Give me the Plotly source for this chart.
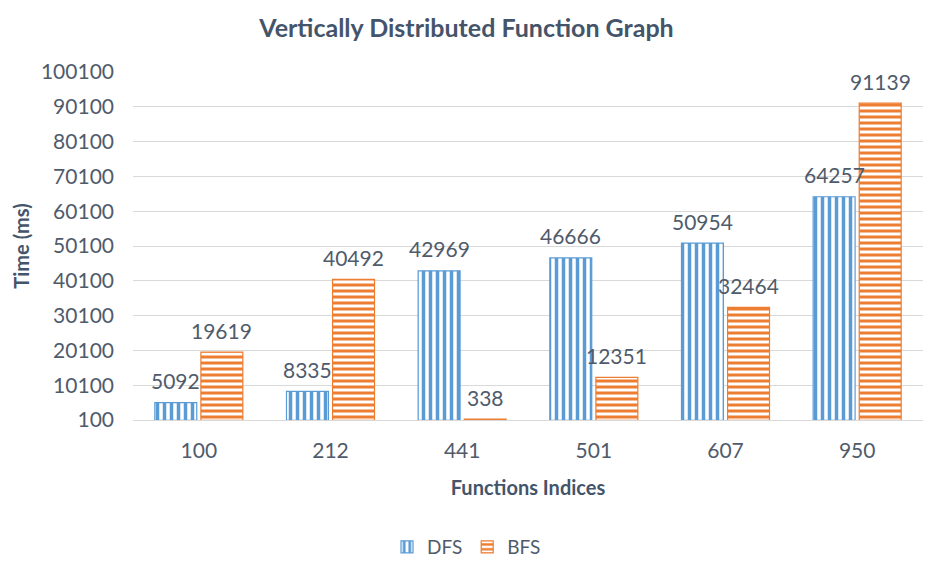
import plotly.graph_objects as go

categories = ["100", "212", "441", "501", "607", "950"]
dfs_times = [5092, 8335, 42969, 46666, 50954, 64257]
bfs_times = [19619, 40492, 338, 12351, 32464, 91139]
y_ticks = [100 + 10000 * i for i in range(11)]

BLUE = "#5B9BD5"
ORANGE = "#ED7D31"
TEXT = "#4F5B6B"
TITLE = "#44546A"
FONT = "Lato, 'Open Sans', sans-serif"

fig = go.Figure()
fig.add_trace(go.Bar(
    name="DFS", x=categories, y=dfs_times,
    marker=dict(color="white", line=dict(color=BLUE, width=1.2),
                pattern=dict(shape="|", fgcolor=BLUE, bgcolor="white",
                             size=7, solidity=0.5, fillmode="replace")),
))
fig.add_trace(go.Bar(
    name="BFS", x=categories, y=bfs_times,
    marker=dict(color="white", line=dict(color=ORANGE, width=1.2),
                pattern=dict(shape="-", fgcolor=ORANGE, bgcolor="white",
                             size=6, solidity=0.5, fillmode="replace")),
))

# value labels above each bar (x given as category index on the category axis)
annotations = []
for vals, shift in ((dfs_times, -23), (bfs_times, 23)):
    for i, v in enumerate(vals):
        annotations.append(dict(
            x=i, y=v, xref="x", yref="y", text=str(v), showarrow=False,
            xshift=shift, yshift=22, yanchor="middle",
            font=dict(size=21, color=TEXT, family=FONT),
        ))

fig.update_layout(
    width=933, height=562,
    margin=dict(l=133, r=10, t=72, b=142),
    paper_bgcolor="white", plot_bgcolor="white",
    barmode="group", bargap=0.30, bargroupgap=0.09,
    title=dict(text="<b>Vertically Distributed Function Graph</b>",
               x=0.5, xref="container", xanchor="center",
               y=1 - 28 / 562, yref="container", yanchor="middle",
               font=dict(size=25, color=TITLE, family=FONT)),
    font=dict(family=FONT, color=TEXT, size=19),
    showlegend=True,
    legend=dict(orientation="h", x=0.5, xref="container", xanchor="center",
                y=15 / 562, yref="container", yanchor="middle",
                font=dict(size=19, color=TEXT, family=FONT),
                itemwidth=30, traceorder="normal"),
    annotations=annotations,
)
fig.update_xaxes(
    type="category", range=[-0.5, len(categories) - 0.5],
    showgrid=False, showline=True, linecolor="#D9D9D9", linewidth=1,
    ticks="", tickfont=dict(size=21, color=TEXT), ticklabelstandoff=12,
    title=dict(text="<b>Functions Indices</b>", standoff=19,
               font=dict(size=20, color=TITLE)),
)
fig.update_yaxes(
    range=[100, 100100], tickvals=y_ticks, ticktext=[str(t) for t in y_ticks],
    showgrid=True, gridcolor="#D9D9D9", gridwidth=1, zeroline=False,
    showline=False, ticks="", tickfont=dict(size=21, color=TEXT),
    ticklabelstandoff=18,
    title=dict(text="<b>Time (ms)</b>", standoff=5,
               font=dict(size=20, color=TITLE)),
)

fig.write_html("out.html")
